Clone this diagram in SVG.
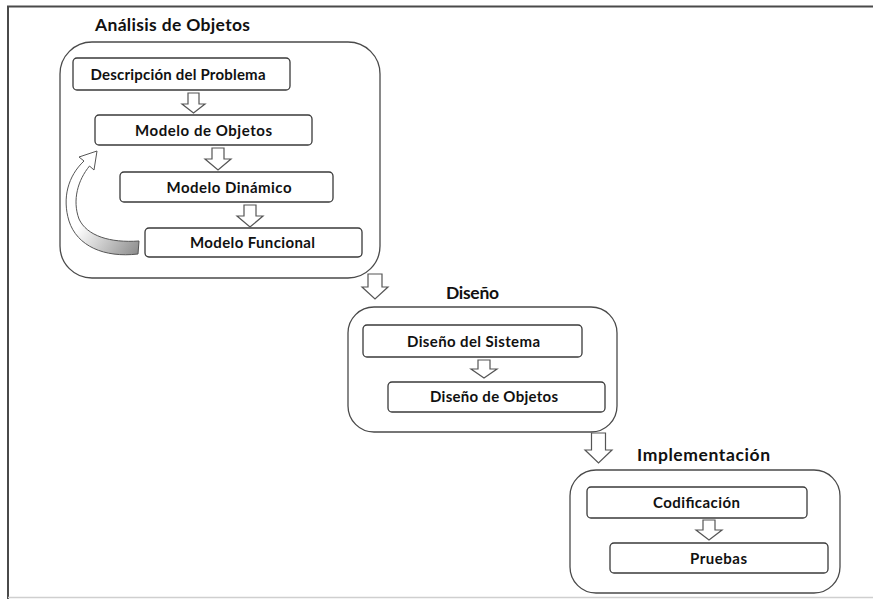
<svg xmlns="http://www.w3.org/2000/svg" width="873" height="599" viewBox="0 0 873 599">
  <style>
    .frame { fill: none; stroke: #4a4a4a; stroke-width: 2; }
    .group { fill: #fff; stroke: #4a4a4a; stroke-width: 1.3; }
    .box { fill: #fff; stroke: #3a3a3a; stroke-width: 1.3; }
    .blk { fill: #fff; stroke: #555; stroke-width: 1.2; stroke-linejoin: miter; }
    .title { font-family: Lato, "Open Sans", "Liberation Sans", sans-serif; font-weight: bold; font-size: 17.5px; fill: #111; }
    .lbl { font-family: Lato, "Open Sans", "Liberation Sans", sans-serif; font-weight: bold; font-size: 15px; fill: #111; text-anchor: middle; }
  </style>
  <defs>
    <linearGradient id="curveFill" x1="0" y1="0" x2="1" y2="1">
      <stop offset="0.45" stop-color="#ffffff"/>
      <stop offset="1" stop-color="#8a8a8a"/>
    </linearGradient>
  </defs>

  <rect width="873" height="599" fill="#fff"/>
  <!-- page frame -->
  <path class="frame" d="M8,599 V6.5 H873"/>
  <line x1="8" y1="597.5" x2="873" y2="597.5" stroke="#cfcfcf" stroke-width="1.5"/>

  <!-- Análisis de Objetos -->
  <g id="analisis">
    <text class="title" x="95" y="31" textLength="155" lengthAdjust="spacing">Análisis de Objetos</text>
    <rect class="group" x="60" y="42" width="320" height="236" rx="32"/>
  </g>
  <g id="descripcion">
    <rect class="box" x="73" y="58" width="217" height="32" rx="4"/>
    <text class="lbl" x="178" y="80" textLength="175" lengthAdjust="spacing">Descripción del Problema</text>
  </g>
  <g id="modelo-objetos">
    <rect class="box" x="95" y="115" width="217" height="30" rx="4"/>
    <text class="lbl" x="203.5" y="136" textLength="137" lengthAdjust="spacing">Modelo de Objetos</text>
  </g>
  <g id="modelo-dinamico">
    <rect class="box" x="120" y="172" width="213" height="30" rx="4"/>
    <text class="lbl" x="229" y="193" textLength="125" lengthAdjust="spacing">Modelo Dinámico</text>
  </g>
  <g id="modelo-funcional">
    <rect class="box" x="145" y="228" width="217" height="29" rx="4"/>
    <text class="lbl" x="252.5" y="248" textLength="125" lengthAdjust="spacing">Modelo Funcional</text>
  </g>

  <!-- Diseño -->
  <g id="diseno">
    <text class="title" x="446" y="299" textLength="53" lengthAdjust="spacing">Diseño</text>
    <rect class="group" x="348" y="307" width="269" height="125" rx="26"/>
  </g>
  <g id="diseno-sistema">
    <rect class="box" x="363" y="325" width="219" height="32" rx="4"/>
    <text class="lbl" x="473.5" y="347" textLength="133" lengthAdjust="spacing">Diseño del Sistema</text>
  </g>
  <g id="diseno-objetos">
    <rect class="box" x="388" y="382" width="217" height="30" rx="4"/>
    <text class="lbl" x="494" y="402" textLength="128" lengthAdjust="spacing">Diseño de Objetos</text>
  </g>

  <!-- Implementación -->
  <g id="implementacion">
    <text class="title" x="637" y="461" textLength="133" lengthAdjust="spacing">Implementación</text>
    <rect class="group" x="570" y="470" width="270" height="123" rx="26"/>
  </g>
  <g id="codificacion">
    <rect class="box" x="587" y="487" width="220" height="31" rx="4"/>
    <text class="lbl" x="696.5" y="508" textLength="87" lengthAdjust="spacing">Codificación</text>
  </g>
  <g id="pruebas">
    <rect class="box" x="610" y="543" width="218" height="30" rx="4"/>
    <text class="lbl" x="718.5" y="564" textLength="57" lengthAdjust="spacing">Pruebas</text>
  </g>

  <!-- connectors: block arrows and the feedback arc -->
  <g id="connectors">
    <path class="blk" d="M188,93 H199 V104 H205 L193.5,113 L182,104 H188 Z"/>
    <path class="blk" d="M212,148 H224 V159 H231 L218,170 L205,159 H212 Z"/>
    <path class="blk" d="M244,205 H256 V216 H263 L250,227 L237,216 H244 Z"/>
    <path class="blk" d="M368,274 H382 V287 H388 L375,299 L362,287 H368 Z"/>
    <path class="blk" d="M478,360 H490 V369 H497 L484,378 L471,369 H478 Z"/>
    <path class="blk" d="M591.5,433 H605.5 V450 H612 L598.5,463 L585,450 H591.5 Z"/>
    <path class="blk" d="M703,520 H715 V530 H722 L709,540 L696,530 H703 Z"/>
    <path d="M97,151 L94,170 L89.5,166 C78,180 72,200 79,219 C87,236 110,243 139,241 L138,254 C104,258 77,246 69,221 C62,198 68,176 84,161 L79,157 Z"
          fill="url(#curveFill)" stroke="#555" stroke-width="1"/>
  </g>
</svg>
